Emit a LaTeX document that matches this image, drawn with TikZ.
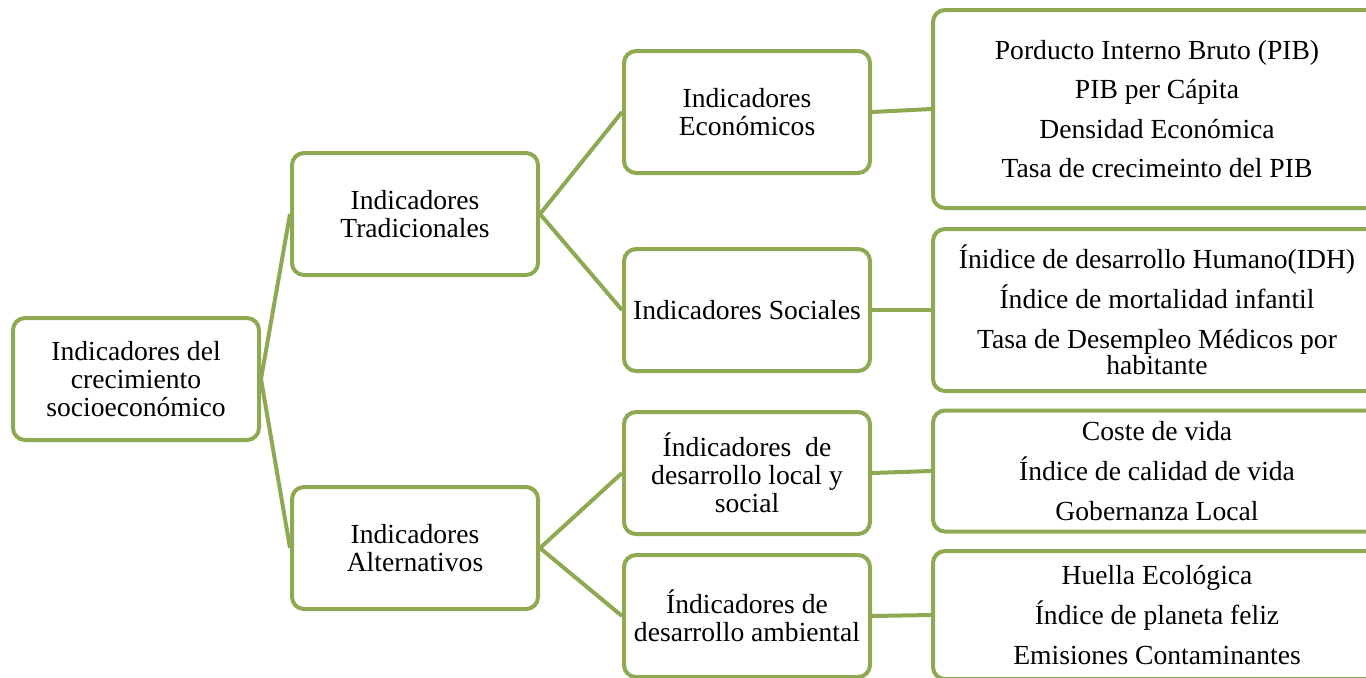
\documentclass[tikz,border=0pt]{standalone}
\usepackage{fontspec}
\setmainfont{Liberation Serif}
\usetikzlibrary{positioning}
\definecolor{verde}{HTML}{8DAA52}
\tikzset{
    %Define style for boxes
    caja/.style={
           rectangle,
           rounded corners=6pt,
           draw=verde, line width=2pt,
           minimum width=123pt,
           minimum height=61pt,
           inner sep=2pt,
           font=\fontsize{13.8}{14}\selectfont,
           align=center},
    hoja/.style={
           caja,
           minimum width=224pt,
           font=\fontsize{13.8}{19.8}\selectfont},
    % Define line style
    enlace/.style={
           draw=verde,
           line width=2pt}
}
\begin{document}
\begin{tikzpicture}[x=0.5pt,y=-0.5pt]
\useasboundingbox (0,0) rectangle (1366,677);
\clip (0,0) rectangle (1366,677);

 %nodes
\node[caja](1) at (136,379){Indicadores del\\crecimiento\\socioeconómico};
\node[caja](2) at (415,214){Indicadores\\Tradicionales};
\node[caja](3) at (415,548){Indicadores\\Alternativos};
\node[caja](4) at (747,112){Indicadores\\Económicos};
\node[caja](5) at (747,310){Indicadores Sociales};
\node[caja](6) at (747,473){Índicadores\ \ de\\desarrollo local y\\social};
\node[caja](7) at (747,616){Índicadores de\\desarrollo ambiental};
\node[hoja, minimum height=99pt](8) at (1157,109){Porducto Interno Bruto (PIB)\\PIB per Cápita\\Densidad Económica\\Tasa de crecimeinto del PIB};
\node[hoja, minimum height=81pt](9) at (1157,310){Ínidice de desarrollo Humano(IDH)\\Índice de mortalidad infantil\\Tasa de Desempleo Médicos por\\[-6.5pt]habitante};
\node[hoja, minimum height=60.5pt](10) at (1157,471){Coste de vida\\Índice de calidad de vida\\Gobernanza Local};
\node[hoja, minimum height=64pt](11) at (1157,615){Huella Ecológica\\Índice de planeta feliz\\Emisiones Contaminantes};

 %lines
\path[enlace]
    (1.east) edge (2.west)
    (1.east) edge (3.west)
    (2.east) edge (4.west)
    (2.east) edge (5.west)
    (3.east) edge (6.west)
    (3.east) edge (7.west)
    (4.east) edge (8.west)
    (5.east) edge (9.west)
    (6.east) edge (10.west)
    (7.east) edge (11.west);
\end{tikzpicture}
\end{document}
